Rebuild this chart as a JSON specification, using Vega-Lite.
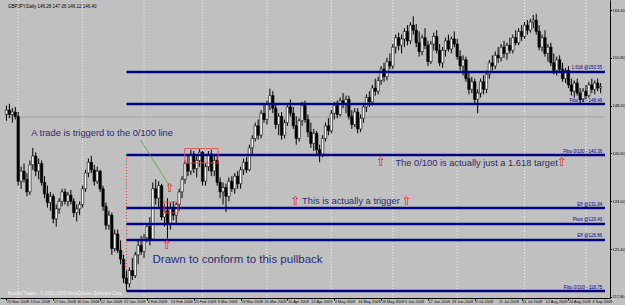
{
  "$schema": "https://vega.github.io/schema/vega-lite/v6.json",
  "width": 610,
  "height": 298,
  "autosize": {"type": "none"},
  "padding": {"left": 0, "top": 0, "right": 15, "bottom": 7},
  "background": "#c0c0c0",
  "config": {"view": {"stroke": null, "fill": "#c0c0c0"}, "font": "Liberation Sans", "axis": {"labelOverlap": false, "labelBound": false, "grid": false, "title": null}},
  "datasets": {
    "bars": [
      {"i":0,"o":146.8,"h":148.2,"l":145.8,"c":147.5},
      {"i":1,"o":147.5,"h":148.5,"l":146.2,"c":146.8},
      {"i":2,"o":146.8,"h":147.8,"l":145.5,"c":147.2},
      {"i":3,"o":147.2,"h":148.0,"l":146.0,"c":146.5},
      {"i":4,"o":146.5,"h":147.2,"l":135.5,"c":136.2},
      {"i":5,"o":136.2,"h":138.5,"l":135.0,"c":137.8},
      {"i":6,"o":137.8,"h":139.0,"l":136.0,"c":136.5},
      {"i":7,"o":136.5,"h":137.5,"l":133.8,"c":134.5},
      {"i":8,"o":134.5,"h":139.5,"l":134.0,"c":138.8},
      {"i":9,"o":138.8,"h":141.5,"l":138.0,"c":140.2},
      {"i":10,"o":140.2,"h":140.8,"l":137.0,"c":137.8},
      {"i":11,"o":137.8,"h":139.8,"l":136.5,"c":139.0},
      {"i":12,"o":139.0,"h":139.5,"l":135.5,"c":136.0},
      {"i":13,"o":136.0,"h":137.0,"l":133.5,"c":134.2},
      {"i":14,"o":134.2,"h":135.5,"l":132.0,"c":132.8},
      {"i":15,"o":132.8,"h":134.5,"l":131.5,"c":133.8},
      {"i":16,"o":133.8,"h":134.2,"l":129.5,"c":130.2},
      {"i":17,"o":130.2,"h":132.5,"l":129.0,"c":131.8},
      {"i":18,"o":131.8,"h":133.5,"l":131.0,"c":133.0},
      {"i":19,"o":133.0,"h":135.0,"l":132.2,"c":134.5},
      {"i":20,"o":134.5,"h":135.0,"l":132.5,"c":133.0},
      {"i":21,"o":133.0,"h":134.5,"l":132.2,"c":134.0},
      {"i":22,"o":134.0,"h":134.8,"l":132.5,"c":133.0},
      {"i":23,"o":133.0,"h":133.5,"l":130.5,"c":131.2},
      {"i":24,"o":131.2,"h":132.5,"l":129.8,"c":131.8},
      {"i":25,"o":131.8,"h":133.0,"l":130.8,"c":132.5},
      {"i":26,"o":132.5,"h":135.5,"l":132.0,"c":135.0},
      {"i":27,"o":135.0,"h":138.0,"l":134.5,"c":137.5},
      {"i":28,"o":137.5,"h":139.8,"l":136.8,"c":139.2},
      {"i":29,"o":139.2,"h":140.2,"l":137.5,"c":138.0},
      {"i":30,"o":138.0,"h":138.8,"l":135.5,"c":136.2},
      {"i":31,"o":136.2,"h":138.5,"l":135.8,"c":137.8},
      {"i":32,"o":137.8,"h":138.0,"l":134.5,"c":135.0},
      {"i":33,"o":135.0,"h":135.5,"l":131.5,"c":132.2},
      {"i":34,"o":132.2,"h":132.8,"l":128.5,"c":129.2},
      {"i":35,"o":129.2,"h":131.5,"l":128.5,"c":130.8},
      {"i":36,"o":130.8,"h":131.2,"l":124.5,"c":125.5},
      {"i":37,"o":125.5,"h":128.5,"l":125.0,"c":127.8},
      {"i":38,"o":127.8,"h":128.5,"l":124.8,"c":125.2},
      {"i":39,"o":125.2,"h":126.8,"l":123.0,"c":123.8},
      {"i":40,"o":123.8,"h":124.5,"l":120.0,"c":120.8},
      {"i":41,"o":120.8,"h":122.0,"l":118.8,"c":119.9},
      {"i":42,"o":119.9,"h":122.5,"l":119.3,"c":122.0},
      {"i":43,"o":122.0,"h":124.0,"l":120.5,"c":121.2},
      {"i":44,"o":121.2,"h":125.0,"l":120.8,"c":124.5},
      {"i":45,"o":124.5,"h":126.8,"l":123.0,"c":126.0},
      {"i":46,"o":126.0,"h":127.5,"l":124.5,"c":125.0},
      {"i":47,"o":125.0,"h":127.8,"l":124.0,"c":127.2},
      {"i":48,"o":127.2,"h":129.5,"l":126.5,"c":129.0},
      {"i":49,"o":129.0,"h":130.5,"l":126.0,"c":127.0},
      {"i":50,"o":127.0,"h":136.0,"l":126.8,"c":135.0},
      {"i":51,"o":135.0,"h":136.5,"l":132.5,"c":133.5},
      {"i":52,"o":133.5,"h":136.2,"l":132.0,"c":135.5},
      {"i":53,"o":135.5,"h":135.8,"l":130.0,"c":130.5},
      {"i":54,"o":130.5,"h":132.5,"l":129.0,"c":131.5},
      {"i":55,"o":131.5,"h":133.5,"l":127.1,"c":129.5},
      {"i":56,"o":129.5,"h":132.8,"l":128.5,"c":132.0},
      {"i":57,"o":132.0,"h":133.0,"l":130.0,"c":130.8},
      {"i":58,"o":130.8,"h":132.8,"l":129.5,"c":132.5},
      {"i":59,"o":132.5,"h":135.0,"l":131.5,"c":134.5},
      {"i":60,"o":134.5,"h":137.0,"l":133.5,"c":136.5},
      {"i":61,"o":136.5,"h":139.5,"l":135.8,"c":139.0},
      {"i":62,"o":139.0,"h":140.5,"l":137.0,"c":137.8},
      {"i":63,"o":137.8,"h":141.2,"l":137.2,"c":140.5},
      {"i":64,"o":140.5,"h":141.0,"l":137.5,"c":138.2},
      {"i":65,"o":138.2,"h":140.2,"l":136.8,"c":139.5},
      {"i":66,"o":139.5,"h":141.3,"l":138.5,"c":140.8},
      {"i":67,"o":140.8,"h":141.0,"l":135.5,"c":136.2},
      {"i":68,"o":136.2,"h":139.0,"l":135.5,"c":138.5},
      {"i":69,"o":138.5,"h":141.0,"l":137.8,"c":140.5},
      {"i":70,"o":140.5,"h":141.2,"l":137.0,"c":137.8},
      {"i":71,"o":137.8,"h":140.3,"l":137.0,"c":139.5},
      {"i":72,"o":139.5,"h":140.2,"l":135.5,"c":136.0},
      {"i":73,"o":136.0,"h":136.8,"l":133.5,"c":134.5},
      {"i":74,"o":134.5,"h":136.0,"l":132.5,"c":135.2},
      {"i":75,"o":135.2,"h":135.8,"l":131.3,"c":133.8},
      {"i":76,"o":133.8,"h":136.8,"l":133.0,"c":136.2},
      {"i":77,"o":136.2,"h":137.0,"l":134.5,"c":135.0},
      {"i":78,"o":135.0,"h":137.5,"l":134.2,"c":137.0},
      {"i":79,"o":137.0,"h":137.8,"l":135.0,"c":135.8},
      {"i":80,"o":135.8,"h":138.5,"l":135.0,"c":138.0},
      {"i":81,"o":138.0,"h":139.8,"l":137.2,"c":139.2},
      {"i":82,"o":139.2,"h":140.0,"l":137.5,"c":138.0},
      {"i":83,"o":138.0,"h":142.0,"l":137.8,"c":141.5},
      {"i":84,"o":141.5,"h":143.5,"l":140.5,"c":143.0},
      {"i":85,"o":143.0,"h":145.5,"l":142.5,"c":145.0},
      {"i":86,"o":145.0,"h":146.0,"l":142.8,"c":143.5},
      {"i":87,"o":143.5,"h":147.5,"l":143.0,"c":147.0},
      {"i":88,"o":147.0,"h":148.5,"l":145.5,"c":146.0},
      {"i":89,"o":146.0,"h":149.0,"l":145.2,"c":148.5},
      {"i":90,"o":148.5,"h":150.9,"l":147.5,"c":149.8},
      {"i":91,"o":149.8,"h":150.5,"l":147.0,"c":147.8},
      {"i":92,"o":147.8,"h":148.5,"l":144.5,"c":145.2},
      {"i":93,"o":145.2,"h":147.0,"l":143.5,"c":146.5},
      {"i":94,"o":146.5,"h":147.2,"l":142.8,"c":143.5},
      {"i":95,"o":143.5,"h":146.0,"l":143.0,"c":145.5},
      {"i":96,"o":145.5,"h":148.5,"l":145.0,"c":148.0},
      {"i":97,"o":148.0,"h":149.2,"l":146.5,"c":147.0},
      {"i":98,"o":147.0,"h":148.0,"l":144.5,"c":145.0},
      {"i":99,"o":145.0,"h":146.5,"l":142.0,"c":143.0},
      {"i":100,"o":143.0,"h":146.2,"l":142.5,"c":145.8},
      {"i":101,"o":145.8,"h":148.8,"l":145.0,"c":148.2},
      {"i":102,"o":148.2,"h":149.0,"l":145.5,"c":146.0},
      {"i":103,"o":146.0,"h":146.8,"l":143.2,"c":144.0},
      {"i":104,"o":144.0,"h":145.5,"l":141.5,"c":142.2},
      {"i":105,"o":142.2,"h":144.5,"l":141.0,"c":143.8},
      {"i":106,"o":143.8,"h":144.2,"l":140.5,"c":141.2},
      {"i":107,"o":141.2,"h":142.0,"l":139.2,"c":140.5},
      {"i":108,"o":140.5,"h":143.5,"l":140.0,"c":143.0},
      {"i":109,"o":143.0,"h":145.5,"l":142.5,"c":145.0},
      {"i":110,"o":145.0,"h":146.2,"l":143.5,"c":144.2},
      {"i":111,"o":144.2,"h":147.5,"l":143.8,"c":147.0},
      {"i":112,"o":147.0,"h":148.8,"l":146.0,"c":148.2},
      {"i":113,"o":148.2,"h":149.0,"l":146.2,"c":146.8},
      {"i":114,"o":146.8,"h":149.5,"l":146.5,"c":149.0},
      {"i":115,"o":149.0,"h":150.2,"l":147.8,"c":148.5},
      {"i":116,"o":148.5,"h":149.8,"l":147.0,"c":149.2},
      {"i":117,"o":149.2,"h":149.8,"l":146.0,"c":146.5},
      {"i":118,"o":146.5,"h":147.5,"l":144.5,"c":145.2},
      {"i":119,"o":145.2,"h":147.8,"l":144.8,"c":147.2},
      {"i":120,"o":147.2,"h":147.8,"l":143.8,"c":144.5},
      {"i":121,"o":144.5,"h":146.8,"l":144.0,"c":146.2},
      {"i":122,"o":146.2,"h":148.5,"l":145.5,"c":148.0},
      {"i":123,"o":148.0,"h":150.0,"l":147.2,"c":149.5},
      {"i":124,"o":149.5,"h":150.5,"l":148.0,"c":148.8},
      {"i":125,"o":148.8,"h":151.5,"l":148.2,"c":151.0},
      {"i":126,"o":151.0,"h":152.5,"l":149.8,"c":150.5},
      {"i":127,"o":150.5,"h":152.8,"l":150.0,"c":152.2},
      {"i":128,"o":152.2,"h":154.5,"l":151.5,"c":154.0},
      {"i":129,"o":154.0,"h":155.0,"l":152.0,"c":152.8},
      {"i":130,"o":152.8,"h":155.8,"l":152.2,"c":155.2},
      {"i":131,"o":155.2,"h":156.5,"l":154.0,"c":154.5},
      {"i":132,"o":154.5,"h":158.0,"l":154.0,"c":157.5},
      {"i":133,"o":157.5,"h":159.5,"l":156.5,"c":159.0},
      {"i":134,"o":159.0,"h":159.8,"l":157.0,"c":157.8},
      {"i":135,"o":157.8,"h":159.5,"l":156.5,"c":158.8},
      {"i":136,"o":158.8,"h":160.5,"l":157.5,"c":160.0},
      {"i":137,"o":160.0,"h":161.0,"l":157.8,"c":158.5},
      {"i":138,"o":158.5,"h":161.5,"l":158.0,"c":161.0},
      {"i":139,"o":161.0,"h":162.4,"l":159.5,"c":160.2},
      {"i":140,"o":160.2,"h":161.2,"l":157.5,"c":158.2},
      {"i":141,"o":158.2,"h":160.0,"l":156.0,"c":156.8},
      {"i":142,"o":156.8,"h":159.5,"l":156.2,"c":159.0},
      {"i":143,"o":159.0,"h":160.5,"l":157.2,"c":157.8},
      {"i":144,"o":157.8,"h":158.5,"l":154.5,"c":155.2},
      {"i":145,"o":155.2,"h":158.5,"l":154.8,"c":158.0},
      {"i":146,"o":158.0,"h":159.8,"l":157.0,"c":159.2},
      {"i":147,"o":159.2,"h":160.2,"l":156.5,"c":157.0},
      {"i":148,"o":157.0,"h":158.0,"l":154.5,"c":155.0},
      {"i":149,"o":155.0,"h":157.5,"l":154.2,"c":157.0},
      {"i":150,"o":157.0,"h":159.0,"l":156.0,"c":158.5},
      {"i":151,"o":158.5,"h":159.5,"l":156.8,"c":157.2},
      {"i":152,"o":157.2,"h":159.2,"l":156.5,"c":158.8},
      {"i":153,"o":158.8,"h":160.0,"l":157.5,"c":158.0},
      {"i":154,"o":158.0,"h":158.8,"l":155.5,"c":156.0},
      {"i":155,"o":156.0,"h":157.0,"l":153.8,"c":154.5},
      {"i":156,"o":154.5,"h":156.2,"l":153.0,"c":155.5},
      {"i":157,"o":155.5,"h":156.0,"l":152.0,"c":152.5},
      {"i":158,"o":152.5,"h":153.5,"l":150.0,"c":150.8},
      {"i":159,"o":150.8,"h":152.8,"l":150.2,"c":152.0},
      {"i":160,"o":152.0,"h":152.5,"l":148.5,"c":149.2},
      {"i":161,"o":149.2,"h":150.8,"l":147.0,"c":150.2},
      {"i":162,"o":150.2,"h":152.5,"l":149.5,"c":152.0},
      {"i":163,"o":152.0,"h":153.0,"l":150.0,"c":150.8},
      {"i":164,"o":150.8,"h":153.8,"l":150.2,"c":153.2},
      {"i":165,"o":153.2,"h":155.5,"l":152.5,"c":155.0},
      {"i":166,"o":155.0,"h":156.2,"l":153.8,"c":154.5},
      {"i":167,"o":154.5,"h":156.8,"l":154.0,"c":156.2},
      {"i":168,"o":156.2,"h":157.5,"l":155.0,"c":155.8},
      {"i":169,"o":155.8,"h":158.0,"l":155.2,"c":157.5},
      {"i":170,"o":157.5,"h":158.5,"l":155.8,"c":156.5},
      {"i":171,"o":156.5,"h":158.2,"l":155.5,"c":157.8},
      {"i":172,"o":157.8,"h":159.0,"l":156.5,"c":157.0},
      {"i":173,"o":157.0,"h":159.5,"l":156.5,"c":159.0},
      {"i":174,"o":159.0,"h":160.2,"l":157.8,"c":158.2},
      {"i":175,"o":158.2,"h":160.5,"l":157.8,"c":160.0},
      {"i":176,"o":160.0,"h":161.0,"l":158.5,"c":159.2},
      {"i":177,"o":159.2,"h":161.5,"l":158.8,"c":161.0},
      {"i":178,"o":161.0,"h":161.8,"l":159.5,"c":160.2},
      {"i":179,"o":160.2,"h":162.0,"l":159.8,"c":161.5},
      {"i":180,"o":161.5,"h":162.6,"l":160.5,"c":161.8},
      {"i":181,"o":161.8,"h":162.8,"l":159.5,"c":160.0},
      {"i":182,"o":160.0,"h":161.0,"l":157.0,"c":157.5},
      {"i":183,"o":157.5,"h":159.5,"l":156.8,"c":159.0},
      {"i":184,"o":159.0,"h":160.2,"l":156.0,"c":156.5},
      {"i":185,"o":156.5,"h":158.0,"l":155.2,"c":157.5},
      {"i":186,"o":157.5,"h":158.2,"l":154.5,"c":155.0},
      {"i":187,"o":155.0,"h":156.5,"l":153.2,"c":153.8},
      {"i":188,"o":153.8,"h":156.0,"l":153.0,"c":155.5},
      {"i":189,"o":155.5,"h":156.2,"l":153.5,"c":154.0},
      {"i":190,"o":154.0,"h":155.0,"l":152.0,"c":152.5},
      {"i":191,"o":152.5,"h":154.2,"l":151.8,"c":153.8},
      {"i":192,"o":153.8,"h":154.5,"l":151.0,"c":151.5},
      {"i":193,"o":151.5,"h":152.5,"l":149.8,"c":150.5},
      {"i":194,"o":150.5,"h":152.2,"l":149.5,"c":151.8},
      {"i":195,"o":151.8,"h":152.5,"l":149.8,"c":150.2},
      {"i":196,"o":150.2,"h":151.0,"l":148.6,"c":149.2},
      {"i":197,"o":149.2,"h":151.0,"l":148.8,"c":150.5},
      {"i":198,"o":150.5,"h":151.5,"l":149.2,"c":149.8},
      {"i":199,"o":149.8,"h":152.0,"l":149.5,"c":151.5},
      {"i":200,"o":151.5,"h":152.5,"l":150.2,"c":150.8},
      {"i":201,"o":150.8,"h":152.2,"l":150.0,"c":151.8},
      {"i":202,"o":151.8,"h":152.5,"l":150.5,"c":151.0},
      {"i":203,"o":151.0,"h":151.8,"l":150.2,"c":151.2}
    ],
    "months": [{"i":4},{"i":26},{"i":47},{"i":67},{"i":89},{"i":111},{"i":132},{"i":154},{"i":177},{"i":198}],
    "dates": [
      {"i":0,"t":"25 Nov 2008"},{"i":8,"t":"5 Dec 2008"},{"i":16,"t":"17 Dec 2008"},{"i":24,"t":"30 Dec 2008"},
      {"i":32,"t":"12 Jan 2009"},{"i":40,"t":"22 Jan 2009"},{"i":48,"t":"3 Feb 2009"},{"i":56,"t":"13 Feb 2009"},
      {"i":64,"t":"25 Feb 2009"},{"i":72,"t":"9 Mar 2009"},{"i":80,"t":"19 Mar 2009"},{"i":88,"t":"31 Mar 2009"},
      {"i":96,"t":"10 Apr 2009"},{"i":104,"t":"22 Apr 2009"},{"i":112,"t":"4 May 2009"},{"i":120,"t":"14 May 2009"},
      {"i":128,"t":"26 May 2009"},{"i":136,"t":"5 Jun 2009"},{"i":144,"t":"17 Jun 2009"},{"i":152,"t":"29 Jun 2009"},
      {"i":160,"t":"9 Jul 2009"},{"i":168,"t":"21 Jul 2009"},{"i":176,"t":"31 Jul 2009"},{"i":184,"t":"12 Aug 2009"},
      {"i":192,"t":"24 Aug 2009"},{"i":200,"t":"3 Sep 2009"}
    ],
    "levels": [
      {"p":153.55,"s":41,"e":204.5,"label":"1.618 @153.55"},
      {"p":148.46,"s":41,"e":204.5,"label":"Fibo 71 - 148.46"},
      {"p":140.36,"s":41,"e":204.5,"label":"Fibo 0/100 - 140.36"},
      {"p":131.94,"s":41,"e":204.5,"label":"Eff @131.94"},
      {"p":129.40,"s":41,"e":204.5,"label":"Pivot @129.40"},
      {"p":126.86,"s":41,"e":204.5,"label":"Eff @126.86"},
      {"p":118.75,"s":41,"e":204.5,"label":"Fibo 0/100 - 118.75"}
    ],
    "current": [{"p":146.4,"s":-0.5,"e":204.5}],
    "redline": [{"i":41,"p1":140.36,"p2":118.75}],
    "boxes": [
      {"x1":60.9,"x2":72.3,"y1":139.09,"y2":141.38},
      {"x1":53.9,"x2":58.6,"y1":131.15,"y2":132.9}
    ],
    "green": [{"i":45.8,"p":142.74},{"i":55.5,"p":135.6}],
    "arrows": [
      {"i":55.9,"p":135.1,"t":"⇧"},
      {"i":54.9,"p":126.0,"t":"⇧"},
      {"i":98.8,"p":133.1,"t":"⇧"},
      {"i":136.8,"p":133.1,"t":"⇧"},
      {"i":128.0,"p":139.25,"t":"⇧"},
      {"i":189.8,"p":139.25,"t":"⇧"}
    ],
    "notesSmall": [
      {"i":8.5,"p":143.86,"t":"A trade is triggerd to the 0/100 line"},
      {"i":132.9,"p":139.09,"t":"The 0/100 is actually just a 1.618 target"},
      {"i":101.0,"p":133.05,"t":"This is actually a trigger"}
    ],
    "notesLarge": [
      {"i":49.9,"p":123.75,"t":"Drawn to conform to this pullback"}
    ],
    "header": [{"i":0.5,"p":163.9,"t":"GBPJPY,Daily  146.28 147.06 146.12 146.40"}],
    "footer": [{"i":0.5,"p":118.3,"t":"Boston Trader - © 2001-2009 MetaQuotes Software Corp."}]
  },
  "layer": [
    {
      "data": {"name": "months"},
      "mark": {"type": "rule", "color": "#f2f2f2", "strokeDash": [1, 2], "strokeWidth": 1},
      "encoding": {
        "x": {"field": "i", "type": "quantitative", "scale": {"domain": [-0.5, 204.5], "nice": false, "zero": false},
          "axis": {"orient": "bottom", "values": [0,8,16,24,32,40,48,56,64,72,80,88,96,104,112,120,128,136,144,152,160,168,176,184,192,200],
            "labels": false, "tickSize": 2, "tickColor": "#000000", "domainColor": "#000000"}}
      }
    },
    {
      "data": {"name": "dates"},
      "mark": {"type": "text", "fontSize": 3.9, "color": "#000000", "align": "left", "baseline": "top", "dx": 0.5, "dy": 1.5},
      "encoding": {
        "x": {"field": "i", "type": "quantitative"},
        "y": {"datum": 117.64, "type": "quantitative"},
        "text": {"field": "t"}
      }
    },
    {
      "data": {"name": "current"},
      "mark": {"type": "rule", "color": "#9a9a9a", "strokeWidth": 0.8},
      "encoding": {
        "x": {"field": "s", "type": "quantitative"},
        "x2": {"field": "e"},
        "y": {"field": "p", "type": "quantitative", "scale": {"domain": [117.64, 164.99], "nice": false, "zero": false},
          "axis": {"orient": "right", "values": [117.8,119.7,121.6,123.5,125.4,127.3,129.2,131.1,133.0,134.9,136.8,138.7,140.6,142.5,144.4,146.3,148.2,150.1,152.0,153.9,155.8,157.7,159.6,161.5,163.4],
            "format": ".2f", "labelFontSize": 4, "labelColor": "#000000", "labelPadding": 0.5,
            "tickSize": 1.5, "tickColor": "#000000", "domainColor": "#000000"}}
      }
    },
    {
      "data": {"name": "redline"},
      "mark": {"type": "rule", "color": "#e04040", "strokeDash": [1, 2], "strokeWidth": 1},
      "encoding": {
        "x": {"field": "i", "type": "quantitative"},
        "y": {"field": "p1", "type": "quantitative"},
        "y2": {"field": "p2"}
      }
    },
    {
      "data": {"name": "bars"},
      "mark": {"type": "rule", "color": "#000000", "strokeWidth": 1},
      "encoding": {
        "x": {"field": "i", "type": "quantitative"},
        "y": {"field": "l", "type": "quantitative"},
        "y2": {"field": "h"}
      }
    },
    {
      "data": {"name": "bars"},
      "mark": {"type": "bar", "size": 2.4, "stroke": "#000000", "strokeWidth": 0.6},
      "encoding": {
        "x": {"field": "i", "type": "quantitative"},
        "y": {"field": "o", "type": "quantitative"},
        "y2": {"field": "c"},
        "fill": {"condition": {"test": "datum.c < datum.o", "value": "#000000"}, "value": "#ffffff"}
      }
    },
    {
      "data": {"name": "levels"},
      "mark": {"type": "rule", "color": "#000080", "strokeWidth": 2.5},
      "encoding": {
        "x": {"field": "s", "type": "quantitative"},
        "x2": {"field": "e"},
        "y": {"field": "p", "type": "quantitative"}
      }
    },
    {
      "data": {"name": "levels"},
      "mark": {"type": "text", "align": "right", "baseline": "bottom", "dy": -1.5, "fontSize": 4.5, "color": "#000080"},
      "encoding": {
        "x": {"datum": 203.6, "type": "quantitative"},
        "y": {"field": "p", "type": "quantitative"},
        "text": {"field": "label"}
      }
    },
    {
      "data": {"name": "boxes"},
      "mark": {"type": "rect", "fill": null, "fillOpacity": 0, "stroke": "#e05050", "strokeWidth": 0.9},
      "encoding": {
        "x": {"field": "x1", "type": "quantitative"},
        "x2": {"field": "x2"},
        "y": {"field": "y1", "type": "quantitative"},
        "y2": {"field": "y2"}
      }
    },
    {
      "data": {"name": "green"},
      "mark": {"type": "line", "color": "#40a040", "strokeWidth": 0.7},
      "encoding": {
        "x": {"field": "i", "type": "quantitative"},
        "y": {"field": "p", "type": "quantitative"}
      }
    },
    {
      "data": {"name": "arrows"},
      "mark": {"type": "text", "fontSize": 12, "color": "#e02020", "font": "DejaVu Sans", "baseline": "middle"},
      "encoding": {
        "x": {"field": "i", "type": "quantitative"},
        "y": {"field": "p", "type": "quantitative"},
        "text": {"field": "t"}
      }
    },
    {
      "data": {"name": "notesSmall"},
      "mark": {"type": "text", "fontSize": 9.3, "color": "#2a2a78", "align": "left", "baseline": "middle"},
      "encoding": {
        "x": {"field": "i", "type": "quantitative"},
        "y": {"field": "p", "type": "quantitative"},
        "text": {"field": "t"}
      }
    },
    {
      "data": {"name": "notesLarge"},
      "mark": {"type": "text", "fontSize": 11.5, "color": "#2a2a78", "align": "left", "baseline": "middle"},
      "encoding": {
        "x": {"field": "i", "type": "quantitative"},
        "y": {"field": "p", "type": "quantitative"},
        "text": {"field": "t"}
      }
    },
    {
      "data": {"name": "header"},
      "mark": {"type": "text", "fontSize": 4.5, "color": "#000000", "align": "left", "baseline": "middle"},
      "encoding": {
        "x": {"field": "i", "type": "quantitative"},
        "y": {"field": "p", "type": "quantitative"},
        "text": {"field": "t"}
      }
    },
    {
      "data": {"name": "footer"},
      "mark": {"type": "text", "fontSize": 4.5, "color": "#f0f0f0", "align": "left", "baseline": "middle"},
      "encoding": {
        "x": {"field": "i", "type": "quantitative"},
        "y": {"field": "p", "type": "quantitative"},
        "text": {"field": "t"}
      }
    }
  ]
}
